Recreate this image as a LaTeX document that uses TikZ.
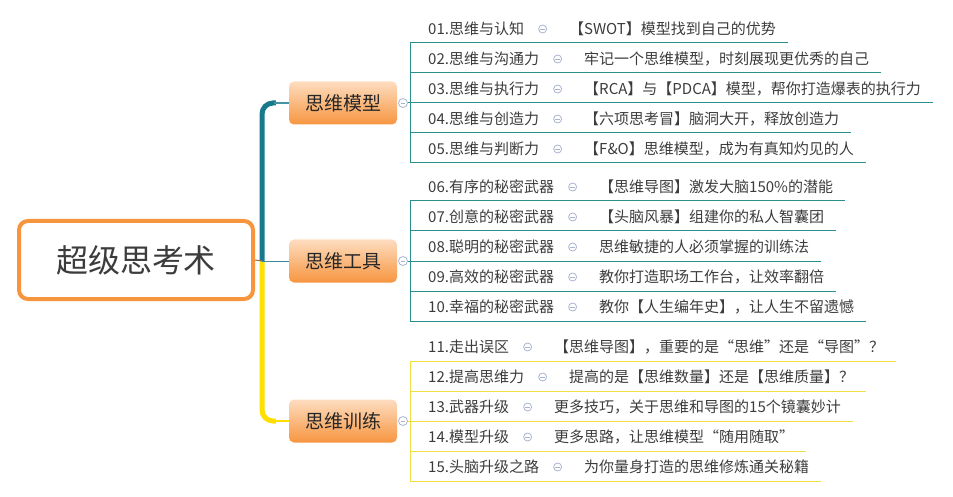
\documentclass[tikz,border=0pt]{standalone}
\usepackage{fontspec}
\setmainfont{Noto Sans CJK SC}
\usepackage{xcolor}
\usepackage{tikz}
\usetikzlibrary{
arrows.meta,
positioning,
calc
}
\definecolor{mmorange}{HTML}{F7953F}
\definecolor{mmpeach}{HTML}{FDDDC0}
\definecolor{mmteal}{HTML}{17798C}
\definecolor{mmline}{HTML}{2A8F8C}
\definecolor{mmyellow}{HTML}{FFDF00}
\definecolor{mmyline}{HTML}{EFDF45}
\definecolor{mmtext}{HTML}{3C3C3C}
\definecolor{mmfold}{HTML}{A9B4CF}
\definecolor{mmbrown}{HTML}{9A6A4C}

\begin{document}
\begin{tikzpicture}[
  x=1pt, y=-1pt,
  rootbox/.style={
    draw=mmorange, line width=4pt, rounded corners=9pt, fill=white,
    minimum width=234pt, minimum height=78pt,
    font=\fontsize{32}{38}\selectfont, text=mmtext
  },
  topic/.style={
    rounded corners=5pt, top color=mmpeach, bottom color=mmorange,
    minimum width=108pt, minimum height=43pt, inner sep=0pt,
    font=\fontsize{19}{23}\selectfont, text=black!85
  },
  fold/.style={
    circle, draw=mmfold, fill=white, line width=0.8pt,
    minimum size=9pt, inner sep=0pt,
    path picture={\draw[mmfold, line width=0.8pt]
      ([xshift=-2.3pt]path picture bounding box.center) --
      ([xshift=2.3pt]path picture bounding box.center);}
  },
  itemtxt/.style={
    font=\fontsize{15}{18}\selectfont, text=mmtext,
    inner sep=0pt, anchor=west
  },
  trunk/.style={line width=5pt, rounded corners=11pt},
  uline/.style={line width=1pt}
]
\useasboundingbox (0,0) rectangle (953,497);

%% ============================================================
%%  ROOT AND TRUNK
%% ============================================================
\coordinate (hub) at (262,261);

\node[topic] (m1) at (343,103) {思维模型};
\node[topic] (m2) at (343,261) {思维工具};
\node[topic] (m3) at (343,421) {思维训练};

\draw[trunk, mmteal] (hub) |- ([xshift=-13pt]m1.west);
\draw[mmteal!80, line width=1.8pt] ([xshift=-15pt]m1.west) -- (m1.west);
\draw[trunk, mmyellow] (hub) |- ([xshift=-13pt]m3.west);
\draw[mmyellow, line width=1.8pt] ([xshift=-15pt]m3.west) -- (m3.west);
\draw[mmteal!85, line width=1pt] (hub) -- (m2.west);

\node[rootbox] (root) at (136,260) {超级思考术};
\draw[mmbrown, line width=1pt] (root.east) -- (hub);

%% ============================================================
%%  FOLD MARKS ON TOPICS
%% ============================================================
\node[fold] (f1) at (403,103) {};
\node[fold] (f2) at (403,261) {};
\node[fold] (f3) at (403,421) {};

%% ============================================================
%%  SECTION 1 -- 思维模型
%% ============================================================
\foreach \i/\u/\lab/\desc in {
    1/43/01.思维与认知/【SWOT】模型找到自己的优势,
    2/73/02.思维与沟通力/牢记一个思维模型，时刻展现更优秀的自己,
    3/103/03.思维与执行力/【RCA】与【PDCA】模型，帮你打造爆表的执行力,
    4/133/04.思维与创造力/【六项思考冒】脑洞大开，释放创造力,
    5/163/05.思维与判断力/【F\&O】思维模型，成为有真知灼见的人}
{
  \node[itemtxt] (a\i) at (428,\u-14) {\lab};
  \node[fold, minimum size=8pt, right=14pt of a\i] (af\i) {};
  \node[itemtxt, right=22pt of af\i] (ad\i) {\desc};
  \coordinate (au\i) at (410,\u);
  \draw[uline, mmline] (au\i) -- ($(ad\i.east |- au\i)+(12,0)$);
}
\draw[uline, mmline] (au1) -- (au5);
\draw[uline, mmline] (f1) -- (au3);

%% ============================================================
%%  SECTION 2 -- 思维工具
%% ============================================================
\foreach \i/\u/\lab/\desc in {
    1/201/06.有序的秘密武器/【思维导图】激发大脑150\%的潜能,
    2/231/07.创意的秘密武器/【头脑风暴】组建你的私人智囊团,
    3/261/08.聪明的秘密武器/思维敏捷的人必须掌握的训练法,
    4/291/09.高效的秘密武器/教你打造职场工作台，让效率翻倍,
    5/321/10.幸福的秘密武器/教你【人生编年史】，让人生不留遗憾}
{
  \node[itemtxt] (b\i) at (428,\u-14) {\lab};
  \node[fold, minimum size=8pt, right=14pt of b\i] (bf\i) {};
  \node[itemtxt, right=22pt of bf\i] (bd\i) {\desc};
  \coordinate (bu\i) at (410,\u);
  \draw[uline, mmline] (bu\i) -- ($(bd\i.east |- bu\i)+(12,0)$);
}
\draw[uline, mmline] (bu1) -- (bu5);
\draw[uline, mmline] (f2) -- (bu3);

%% ============================================================
%%  SECTION 3 -- 思维训练
%% ============================================================
\foreach \i/\u/\lab/\desc in {
    1/361/11.走出误区/【思维导图】，重要的是“思维”还是“导图”？,
    2/391/12.提高思维力/提高的是【思维数量】还是【思维质量】？,
    3/421/13.武器升级/更多技巧，关于思维和导图的15个镜囊妙计,
    4/451/14.模型升级/更多思路，让思维模型“随用随取”,
    5/481/15.头脑升级之路/为你量身打造的思维修炼通关秘籍}
{
  \node[itemtxt] (c\i) at (428,\u-14) {\lab};
  \node[fold, minimum size=8pt, right=14pt of c\i] (cf\i) {};
  \node[itemtxt, right=22pt of cf\i] (cd\i) {\desc};
  \coordinate (cu\i) at (410,\u);
  \draw[uline, mmyline] (cu\i) -- ($(cd\i.east |- cu\i)+(12,0)$);
}
\draw[uline, mmyline] (cu1) -- (cu5);
\draw[uline, mmyline] (f3) -- (cu3);

\end{tikzpicture}
\end{document}
